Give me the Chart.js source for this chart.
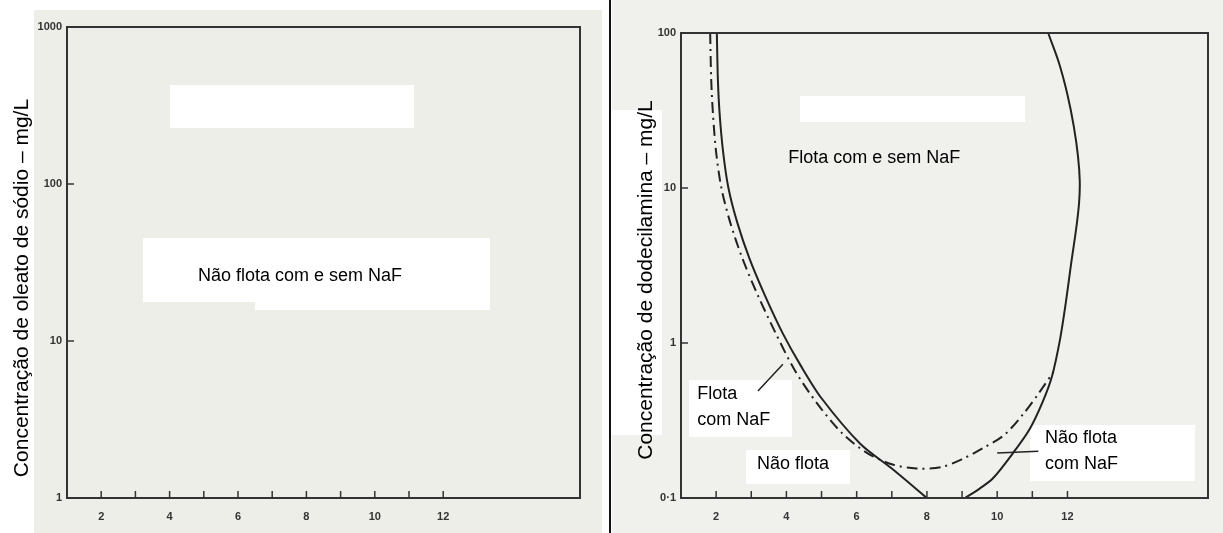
<!DOCTYPE html>
<html><head><meta charset="utf-8">
<script src="https://cdn.jsdelivr.net/npm/chart.js@4/dist/chart.umd.min.js"></script>
<style>
html,body{margin:0;padding:0;background:#fff;}
#wrap{position:relative;width:1223px;height:533px;overflow:hidden;background:#fff;}
.bx{position:absolute;}
.cv{position:absolute;top:0;}
</style></head><body>
<div id="wrap">
  <div class="bx" style="left:34px;top:10px;width:568px;height:523px;background:#eeeee9"></div>
  <div class="bx" style="left:612px;top:0;width:611px;height:533px;background:#f0f0ec"></div>
  <div class="bx" style="left:170px;top:85px;width:244px;height:43px;background:#fff"></div>
  <div class="bx" style="left:143px;top:238px;width:347px;height:64px;background:#fff"></div>
  <div class="bx" style="left:255px;top:300px;width:235px;height:10px;background:#fff"></div>
  <div class="bx" style="left:800px;top:96px;width:225px;height:26px;background:#fff"></div>
  <div class="bx" style="left:612px;top:110px;width:50px;height:325px;background:#fff"></div>
  <div class="bx" style="left:689px;top:380px;width:103px;height:57px;background:#fff"></div>
  <div class="bx" style="left:746px;top:450px;width:104px;height:34px;background:#fff"></div>
  <div class="bx" style="left:1030px;top:425px;width:165px;height:56px;background:#fff"></div>
  <div class="bx" style="left:609px;top:0;width:2px;height:533px;background:#111"></div>
  <canvas id="c1" class="cv" style="left:0" width="610" height="533"></canvas>
  <canvas id="c2" class="cv" style="left:612px" width="611" height="533"></canvas>
</div>
<script>
// ---------- data ----------
const xTickMarks = [2,3,4,5,6,7,8,9,10,11,12];
const xTickValues = [2,4,6,8,10,12];
const xTickLabels = ['2','4','6','8','10','12'];

const leftYTickValues = [1,10,100,1000];
const leftYTickLabels = ['1','10','100','1000'];
const rightYTickValues = [0.1,1,10,100];
const rightYTickLabels = ['0·1','1','10','100'];

// pH values / concentration (mg/L)
const solidLeftPH   = [2.02,2.05,2.1,2.2,2.35,2.6,2.95,3.4,3.9,4.4,5.0,6.1,7.0,8.0];
const solidLeftConc = [100,50,30,17,10,6,3.5,2.0,1.15,0.72,0.44,0.224,0.155,0.1];

const solidRightPH   = [9.08,9.5,9.88,10.45,10.93,11.3,11.56,11.79,11.95,12.1,12.25,12.33,12.35,12.3,12.18,12.0,11.75,11.45];
const solidRightConc = [0.1,0.115,0.134,0.195,0.28,0.42,0.61,1.06,1.8,3.2,5.5,8,11,16,25,40,65,100];

const dashPH   = [1.83,1.86,1.91,2.0,2.15,2.4,2.75,3.2,3.7,4.25,4.9,5.6,6.3,7.0,7.7,8.4,9.0,9.6,10.2,10.75,11.2,11.6];
const dashConc = [100,50,30,17,10,6,3.5,2.0,1.15,0.66,0.4,0.26,0.195,0.165,0.155,0.158,0.178,0.21,0.255,0.35,0.48,0.65];

// text annotations (anchored in data units)
const leftNotes  = [{x:4.83, y:26, lines:['Não flota com e sem NaF']}];
const rightNotes = [
  {x:4.05, y:15.5, lines:['Flota com e sem NaF']},
  {x:1.46, y:0.47, lines:['Flota','com NaF']},
  {x:3.16, y:0.165, lines:['Não flota']},
  {x:11.36, y:0.243, lines:['Não flota','com NaF']}
];
const rightLeaders = [
  [3.19,0.49,3.9,0.73],
  [10.0,0.195,11.17,0.2]
];

const leftYTitle  = 'Concentração de oleato de sódio – mg/L';
const rightYTitle = 'Concentração de dodecilamina – mg/L';

// ---------- drawing ----------
const SANS = '"Liberation Sans",Arial,sans-serif';
const INK = '#222';
const NOTE_SIZE = 18;
const toPts = (xs, ys) => xs.map((x,i)=>({x:x, y:ys[i]}));

const framePlugin = {
  id:'frame',
  afterDraw(chart){
    const cfg = chart.options.plugins.frame;
    const {ctx, chartArea:a, scales:{x,y}} = chart;
    ctx.save();
    ctx.strokeStyle = '#333'; ctx.lineWidth = 2;
    ctx.strokeRect(a.left, a.top, a.right-a.left, a.bottom-a.top);
    ctx.lineWidth = 1.5;
    xTickMarks.forEach(v=>{
      const px = x.getPixelForValue(v);
      ctx.beginPath(); ctx.moveTo(px, a.bottom); ctx.lineTo(px, a.bottom-7); ctx.stroke();
    });
    cfg.yTicks.forEach(v=>{
      const py = y.getPixelForValue(v);
      ctx.beginPath(); ctx.moveTo(a.left, py); ctx.lineTo(a.left+7, py); ctx.stroke();
    });
    ctx.strokeStyle = INK; ctx.lineWidth = 1.5;
    (cfg.leaders||[]).forEach(l=>{
      ctx.beginPath();
      ctx.moveTo(x.getPixelForValue(l[0]), y.getPixelForValue(l[1]));
      ctx.lineTo(x.getPixelForValue(l[2]), y.getPixelForValue(l[3]));
      ctx.stroke();
    });
    ctx.fillStyle = '#000';
    ctx.textAlign = 'left'; ctx.textBaseline = 'middle';
    ctx.font = NOTE_SIZE + 'px ' + SANS;
    cfg.notes.forEach(n=>{
      const px = x.getPixelForValue(n.x), py = y.getPixelForValue(n.y);
      n.lines.forEach((t,i)=> ctx.fillText(t, px, py + i*cfg.noteLine));
    });
    ctx.save();
    ctx.translate(cfg.titleX, cfg.titleY);
    ctx.rotate(-Math.PI/2);
    ctx.textAlign = 'center'; ctx.textBaseline = 'middle';
    ctx.font = cfg.titleSize + 'px ' + SANS;
    ctx.fillText(cfg.title, 0, 0);
    ctx.restore();
    ctx.restore();
  }
};

function makeOptions(cfg){
  return {
    responsive:false, animation:false, devicePixelRatio:1,
    layout:{padding:{left:0, right:cfg.padRight, top:cfg.padTop, bottom:0}},
    plugins:{legend:{display:false}, tooltip:{enabled:false}, frame:cfg},
    scales:{
      x:{type:'linear', min:1, max:16,
        grid:{display:false, drawTicks:false}, border:{display:false},
        afterBuildTicks:s=>{ s.ticks = xTickMarks.map(v=>({value:v})); },
        afterFit:s=>{ s.height = cfg.xHeight; },
        ticks:{autoSkip:false, maxRotation:0, padding:12, color:'#333',
          font:{family:SANS, size:11, weight:'bold'},
          callback:v=>{ const i = xTickValues.indexOf(v); return i<0 ? '' : xTickLabels[i]; }}
      },
      y:{type:'logarithmic', min:cfg.yMin, max:cfg.yMax,
        grid:{display:false, drawTicks:false}, border:{display:false},
        afterBuildTicks:s=>{ s.ticks = cfg.yTicks.map(v=>({value:v})); },
        afterFit:s=>{ s.width = cfg.yWidth; },
        ticks:{autoSkip:false, padding:5, color:'#333',
          font:{family:SANS, size:11, weight:'bold'},
          callback:v=>{ const i = cfg.yTicks.indexOf(v); return i<0 ? '' : cfg.yLabels[i]; }}
      }
    }
  };
}

new Chart(document.getElementById('c1'), {
  type:'scatter',
  data:{datasets:[]},
  options:makeOptions({
    padRight:30, padTop:27, xHeight:35, yWidth:67, yMin:1, yMax:1000,
    yTicks:leftYTickValues, yLabels:leftYTickLabels,
    notes:leftNotes, leaders:[], noteLine:26,
    title:leftYTitle, titleX:22, titleY:288, titleSize:21
  }),
  plugins:[framePlugin]
});

const lineStyle = {showLine:true, pointRadius:0, borderColor:INK, borderWidth:2, tension:0.3, fill:false};
new Chart(document.getElementById('c2'), {
  type:'scatter',
  data:{datasets:[
    Object.assign({label:'Limite sem NaF – ramo ácido', data:toPts(solidLeftPH, solidLeftConc)}, lineStyle),
    Object.assign({label:'Limite sem NaF – ramo alcalino', data:toPts(solidRightPH, solidRightConc)}, lineStyle),
    Object.assign({label:'Limite com NaF', data:toPts(dashPH, dashConc)}, lineStyle, {borderDash:[11,5,2,5]})
  ]},
  options:makeOptions({
    padRight:15, padTop:33, xHeight:35, yWidth:69, yMin:0.1, yMax:100,
    yTicks:rightYTickValues, yLabels:rightYTickLabels,
    notes:rightNotes, leaders:rightLeaders, noteLine:26,
    title:rightYTitle, titleX:34, titleY:280, titleSize:21
  }),
  plugins:[framePlugin]
});
</script>
</body></html>
